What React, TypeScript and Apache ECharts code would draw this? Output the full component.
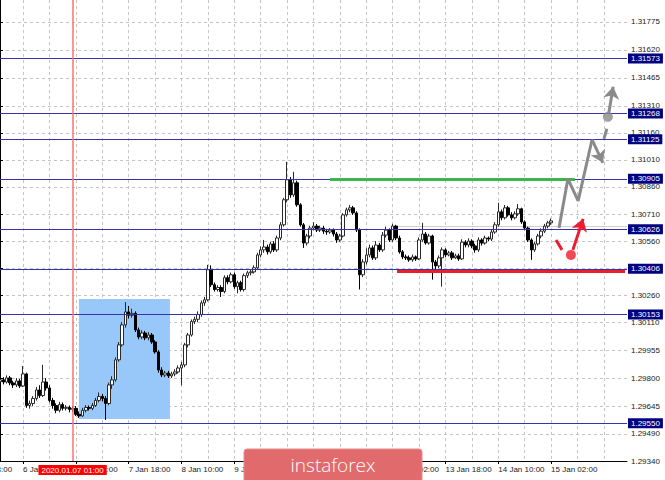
import React, { useEffect, useRef } from "react";
import * as echarts from "echarts";

// ---------- DATA ----------
const tradingDays = [6, 7, 8, 9, 10, 13, 14, 15, 16];
const firstHour = 3; // first bar: 6 Jan 03:00
const barCount = 191;

// [open, close, low, high] H1 candles
const candles: number[][] = [
  [1.2978, 1.2979, 1.2976, 1.2981], [1.2979, 1.29778, 1.29765, 1.29805], [1.29778, 1.29801, 1.2977, 1.29815],
  [1.29801, 1.29773, 1.2976, 1.29812], [1.29773, 1.29762, 1.29745, 1.29785], [1.29762, 1.29784, 1.2975, 1.298],
  [1.29784, 1.29756, 1.29745, 1.29795], [1.29756, 1.29823, 1.2975, 1.29867], [1.29823, 1.29648, 1.29635, 1.2983],
  [1.29648, 1.29659, 1.2963, 1.29675], [1.29659, 1.29687, 1.29645, 1.297], [1.29687, 1.29734, 1.29675, 1.2975],
  [1.29734, 1.29703, 1.2969, 1.2976], [1.29703, 1.29778, 1.29695, 1.29873], [1.29778, 1.29745, 1.2973, 1.298],
  [1.29745, 1.29676, 1.29665, 1.2976], [1.29676, 1.29648, 1.2963, 1.2969], [1.29648, 1.29621, 1.29605, 1.2966],
  [1.29621, 1.29653, 1.2961, 1.29668], [1.29653, 1.29632, 1.2962, 1.29665], [1.29632, 1.29637, 1.2962, 1.2965],
  [1.29637, 1.29626, 1.2961, 1.29648], [1.29626, 1.29632, 1.29612, 1.29645], [1.29632, 1.29599, 1.2959, 1.29645],
  [1.29599, 1.2959, 1.29579, 1.29615], [1.2959, 1.29621, 1.29585, 1.29635], [1.29621, 1.29637, 1.2961, 1.2965],
  [1.29637, 1.29632, 1.2962, 1.29648], [1.29632, 1.29648, 1.29622, 1.29662], [1.29648, 1.29676, 1.2964, 1.2969],
  [1.29676, 1.29698, 1.29665, 1.2972], [1.29698, 1.29687, 1.2967, 1.29712], [1.29687, 1.29659, 1.29568, 1.297],
  [1.29659, 1.29762, 1.2965, 1.29775], [1.29762, 1.2979, 1.2974, 1.2981], [1.2979, 1.29901, 1.2978, 1.29915],
  [1.29901, 1.29984, 1.2989, 1.3], [1.29984, 1.30095, 1.29975, 1.3011], [1.30095, 1.30167, 1.3008, 1.30222],
  [1.30167, 1.30148, 1.3013, 1.302], [1.30148, 1.30159, 1.30135, 1.30185], [1.30159, 1.30067, 1.30055, 1.3017],
  [1.30067, 1.30028, 1.30015, 1.3008], [1.30028, 1.3005, 1.30015, 1.30065], [1.3005, 1.30023, 1.3001, 1.30062],
  [1.30023, 1.30039, 1.3001, 1.30055], [1.30039, 1.3, 1.2999, 1.3005], [1.3, 1.29945, 1.29935, 1.3001],
  [1.29945, 1.29845, 1.2983, 1.29955], [1.29845, 1.29817, 1.29805, 1.2986], [1.29817, 1.29828, 1.29805, 1.2984],
  [1.29828, 1.29812, 1.298, 1.2984], [1.29812, 1.29823, 1.298, 1.29835], [1.29823, 1.29834, 1.2981, 1.2985],
  [1.29834, 1.29856, 1.29825, 1.2987], [1.29856, 1.29873, 1.2976, 1.2989], [1.29873, 1.29984, 1.2986, 1.29995],
  [1.29984, 1.30039, 1.2997, 1.3005], [1.30039, 1.30114, 1.3003, 1.30125], [1.30114, 1.30126, 1.301, 1.3014],
  [1.30126, 1.30153, 1.3011, 1.3017], [1.30153, 1.30217, 1.3014, 1.3023], [1.30217, 1.30234, 1.302, 1.3025],
  [1.30234, 1.30401, 1.30225, 1.30428], [1.30401, 1.30318, 1.30305, 1.30425], [1.30318, 1.30291, 1.3028, 1.3033],
  [1.30291, 1.30302, 1.3028, 1.30315], [1.30302, 1.3028, 1.3025, 1.30315], [1.3028, 1.30357, 1.3027, 1.3037],
  [1.30357, 1.30334, 1.3032, 1.3037], [1.30334, 1.30373, 1.30325, 1.30385], [1.30373, 1.30307, 1.30295, 1.30385],
  [1.30307, 1.30329, 1.3027, 1.3034], [1.30329, 1.30291, 1.3028, 1.3034], [1.30291, 1.30368, 1.3028, 1.3038],
  [1.30368, 1.30384, 1.30355, 1.30395], [1.30384, 1.30389, 1.3037, 1.304], [1.30389, 1.30412, 1.3038, 1.30425],
  [1.30412, 1.30483, 1.304, 1.30495], [1.30483, 1.30511, 1.3047, 1.3053], [1.30511, 1.30527, 1.30495, 1.30566],
  [1.30527, 1.305, 1.30485, 1.3054], [1.305, 1.30544, 1.3049, 1.30555], [1.30544, 1.30511, 1.305, 1.3056],
  [1.30511, 1.30577, 1.305, 1.3059], [1.30577, 1.3065, 1.30565, 1.30665], [1.3065, 1.30789, 1.3064, 1.308],
  [1.30789, 1.309, 1.30775, 1.30999], [1.309, 1.30816, 1.308, 1.30915], [1.30816, 1.30883, 1.30805, 1.30944],
  [1.30883, 1.30761, 1.3075, 1.30895], [1.30761, 1.3065, 1.3064, 1.3077], [1.3065, 1.30549, 1.30522, 1.3066],
  [1.30549, 1.30588, 1.30535, 1.306], [1.30588, 1.30632, 1.30575, 1.30645], [1.30632, 1.30643, 1.3062, 1.30665],
  [1.30643, 1.30621, 1.3061, 1.30655], [1.30621, 1.30632, 1.3061, 1.30645], [1.30632, 1.30615, 1.306, 1.30645],
  [1.30615, 1.3061, 1.30595, 1.30628], [1.3061, 1.30621, 1.306, 1.30632], [1.30621, 1.30599, 1.30585, 1.3063],
  [1.30599, 1.30566, 1.3055, 1.3061], [1.30566, 1.30588, 1.30555, 1.306], [1.30588, 1.30705, 1.3058, 1.30715],
  [1.30705, 1.30733, 1.30695, 1.30745], [1.30733, 1.30744, 1.3072, 1.3076], [1.30744, 1.30716, 1.30705, 1.30755],
  [1.30716, 1.30621, 1.3061, 1.30725], [1.30621, 1.30373, 1.30291, 1.3063], [1.30373, 1.30444, 1.3036, 1.3046],
  [1.30444, 1.30483, 1.3043, 1.3052], [1.30483, 1.30522, 1.3047, 1.3054], [1.30522, 1.30467, 1.30455, 1.30535],
  [1.30467, 1.30538, 1.30455, 1.3056], [1.30538, 1.30511, 1.305, 1.3055], [1.30511, 1.30593, 1.305, 1.3061],
  [1.30593, 1.30621, 1.3058, 1.3064], [1.30621, 1.30566, 1.30555, 1.3063], [1.30566, 1.30643, 1.30555, 1.30655],
  [1.30643, 1.30577, 1.30565, 1.3065], [1.30577, 1.305, 1.3049, 1.3059], [1.305, 1.30472, 1.3046, 1.3051],
  [1.30472, 1.30467, 1.30455, 1.30485], [1.30467, 1.30456, 1.30445, 1.3048], [1.30456, 1.30472, 1.30445, 1.30485],
  [1.30472, 1.30461, 1.3045, 1.3048], [1.30461, 1.30566, 1.30455, 1.3058], [1.30566, 1.30599, 1.30555, 1.30661],
  [1.30599, 1.30549, 1.3054, 1.3061], [1.30549, 1.30588, 1.3054, 1.306], [1.30588, 1.30444, 1.30346, 1.30595],
  [1.30444, 1.30422, 1.304, 1.30455], [1.30422, 1.30467, 1.3041, 1.3048], [1.30467, 1.30511, 1.30307, 1.30525],
  [1.30511, 1.30483, 1.3047, 1.3052], [1.30483, 1.30494, 1.30475, 1.30505], [1.30494, 1.30467, 1.30455, 1.30505],
  [1.30467, 1.30478, 1.3046, 1.3049], [1.30478, 1.30461, 1.3045, 1.3049], [1.30461, 1.30554, 1.30455, 1.3057],
  [1.30554, 1.30538, 1.30525, 1.30565], [1.30538, 1.3056, 1.30525, 1.30575], [1.3056, 1.30533, 1.3052, 1.3057],
  [1.30533, 1.30511, 1.30495, 1.30545], [1.30511, 1.30566, 1.305, 1.3058], [1.30566, 1.30549, 1.30535, 1.30575],
  [1.30549, 1.30577, 1.3054, 1.3059], [1.30577, 1.30571, 1.3056, 1.30585], [1.30571, 1.3061, 1.3056, 1.30625],
  [1.3061, 1.3065, 1.306, 1.30665], [1.3065, 1.30722, 1.3064, 1.30772], [1.30722, 1.30689, 1.30675, 1.30735],
  [1.30689, 1.30744, 1.3068, 1.3076], [1.30744, 1.30705, 1.30695, 1.30755], [1.30705, 1.30689, 1.30675, 1.3072],
  [1.30689, 1.30711, 1.3068, 1.30725], [1.30711, 1.30739, 1.307, 1.30765], [1.30739, 1.30666, 1.30655, 1.30745],
  [1.30666, 1.30632, 1.3062, 1.30675], [1.30632, 1.30566, 1.30555, 1.3064], [1.30566, 1.30511, 1.30456, 1.30575],
  [1.30511, 1.30544, 1.305, 1.30555], [1.30544, 1.30588, 1.30535, 1.306], [1.30588, 1.30615, 1.30575, 1.3063],
  [1.30615, 1.30643, 1.30605, 1.30655], [1.30643, 1.30661, 1.3063, 1.30672], [1.30661, 1.30672, 1.3065, 1.30685],
];

const levels = [1.31573, 1.31268, 1.31125, 1.30905, 1.30626, 1.30406, 1.30153, 1.2955];
const yTickValues = [
  1.2934, 1.2949, 1.29645, 1.298, 1.29955, 1.3011, 1.3026, 1.3041, 1.3056,
  1.3071, 1.3086, 1.3101, 1.3116, 1.3131, 1.31465, 1.3162, 1.31775,
];
const yMin = 1.2934;
const yMax = 1.31897;

const markerBar = "7 Jan 01:00";
const markerLabel = "2020.01.07 01:00";
const offLeftLabel = "3 Jan 18:00";

// annotations in [bar index, price]
const greenLine = [[100, 1.30905], [174.2, 1.30905]];
const redLine = [[120.3, 1.30395], [189.4, 1.30395]];
const bidLine = [[120, 1.3064], [190, 1.3064]];
const greyPath = [[169.4, 1.30633], [172.1, 1.30905], [175.2, 1.30783], [179.4, 1.31122]];
const greyArrow1 = [[179.4, 1.31122], [182.7, 1.30994]];
const greyDash = [[183.0, 1.31127], [183.9, 1.31183]];
const greyDot = [184.2, 1.31249];
const greyArrow2 = [[184.5, 1.31271], [185.8, 1.31416]];
const redDash = [[168.5, 1.30566], [170.3, 1.30511]];
const redDot = [173.0, 1.30483];
const redArrow = [[173.6, 1.30511], [176.7, 1.30683]];
const blueBox = [[23.9, 1.30239], [51.5, 1.29573]];

// ---------- helpers ----------
const categories: string[] = [];
for (const d of tradingDays) {
  for (let h = 0; h < 24; h++) {
    if (d === tradingDays[0] && h < firstHour) continue;
    if (categories.length < barCount) categories.push(`${d} Jan ${String(h).padStart(2, "0")}:00`);
  }
}

const FONT = "'Liberation Sans', Arial, sans-serif";
const NAVY_LINE = "#3434b0";
const GREY = "#8a8a8a";
const RED = "#ee1c2c";
const isLabelIdx = (i: number) => (i - 7) % 16 === 0 && i <= 170;

export default function App() {
  const ref = useRef<HTMLDivElement>(null);
  useEffect(() => {
    if (!ref.current) return;
    const chart = echarts.init(ref.current, undefined, { renderer: "svg" });
    const option: any = {
      animation: false,
      backgroundColor: "#ffffff",
      textStyle: { fontFamily: FONT },
      grid: { left: 0, right: 38, top: 0, bottom: 19 },
      xAxis: [
        {
          type: "category",
          data: categories,
          boundaryGap: false,
          axisLine: { show: true, lineStyle: { color: "#000", width: 1 } },
          axisTick: { show: true, length: 3, interval: (i: number) => isLabelIdx(i), lineStyle: { color: "#000" } },
          axisLabel: {
            interval: (i: number) => isLabelIdx(i),
            align: "left",
            margin: 4,
            fontSize: 8,
            color: "#1a1a1a",
            fontFamily: FONT,
          },
          splitLine: {
            show: true,
            interval: (i: number) => (i - 7) % 8 === 0,
            lineStyle: { type: [3, 3], color: "#c4c4c4", width: 1 },
          },
        },
        { type: "value", min: 0, max: barCount - 1, show: false },
      ],
      yAxis: {
        type: "value",
        position: "right",
        min: yMin,
        max: yMax,
        axisLine: { show: true, lineStyle: { color: "#000", width: 1 } },
        axisTick: { show: true, length: 3, customValues: yTickValues, lineStyle: { color: "#000" } },
        axisLabel: {
          customValues: yTickValues,
          formatter: (v: number) => v.toFixed(5),
          fontSize: 8,
          color: "#1a1a1a",
          margin: 4,
          fontFamily: FONT,
        },
        splitLine: { show: true, lineStyle: { type: [3, 3], color: "#c4c4c4", width: 1 } },
      },
      series: [
        {
          type: "line",
          xAxisIndex: 1,
          data: [],
          z: 1,
          silent: true,
          markArea: {
            silent: true,
            itemStyle: { color: "#98c8fa", opacity: 1 },
            data: [[{ coord: blueBox[0] }, { coord: blueBox[1] }]],
          },
        },
        {
          type: "lines",
          coordinateSystem: "cartesian2d",
          xAxisIndex: 1,
          z: 2,
          silent: true,
          symbol: ["none", "none"],
          lineStyle: { color: "#d0d0d0", width: 1, opacity: 1 },
          data: [{ coords: bidLine }],
        },
        {
          type: "candlestick",
          data: candles,
          barWidth: 3,
          z: 3,
          silent: true,
          itemStyle: {
            color: "#ffffff",
            color0: "#000000",
            borderColor: "#2a2a2a",
            borderColor0: "#000000",
            borderWidth: 1,
          },
          markLine: {
            silent: true,
            symbol: "none",
            animation: false,
            data: [
              {
                xAxis: markerBar,
                lineStyle: { color: "#ff7070", width: 1.5, type: "solid" },
                label: {
                  show: true,
                  position: "start",
                  distance: 4,
                  formatter: markerLabel,
                  color: "#ffffff",
                  backgroundColor: "#ff0000",
                  padding: [1, 3, 1, 3],
                  fontSize: 8,
                  fontFamily: FONT,
                },
              },
            ],
          },
        },
        {
          type: "lines",
          coordinateSystem: "cartesian2d",
          xAxisIndex: 1,
          z: 4,
          silent: true,
          clip: false,
          symbol: ["none", "none"],
          lineStyle: { color: NAVY_LINE, width: 1, opacity: 1 },
          label: {
            show: true,
            position: "end",
            distance: 1,
            color: "#ffffff",
            backgroundColor: "#000080",
            padding: [1, 3, 1, 3],
            fontSize: 8,
            fontFamily: FONT,
          },
          data: levels.map((v) => ({
            coords: [[0, v], [barCount - 1, v]],
            lineStyle: { color: NAVY_LINE, width: 1, opacity: 1 },
            label: { show: true, formatter: v.toFixed(5) },
          })),
        },
        {
          type: "lines",
          coordinateSystem: "cartesian2d",
          xAxisIndex: 1,
          z: 5,
          silent: true,
          symbol: ["none", "none"],
          data: [
            { coords: greenLine, lineStyle: { color: "#3cb54a", width: 3, opacity: 1 } },
            { coords: redLine, lineStyle: { color: RED, width: 3, opacity: 1 } },
            { coords: redDash, lineStyle: { color: RED, width: 3, opacity: 1 } },
            { coords: greyDash, lineStyle: { color: GREY, width: 3, opacity: 1 } },
          ],
        },
        {
          type: "line",
          xAxisIndex: 1,
          z: 5,
          silent: true,
          data: greyPath,
          symbol: "none",
          lineStyle: { color: GREY, width: 3 },
        },
        {
          type: "lines",
          coordinateSystem: "cartesian2d",
          xAxisIndex: 1,
          z: 5,
          silent: true,
          symbol: ["none", "arrow"],
          symbolSize: 12,
          data: [
            { coords: greyArrow1, lineStyle: { color: GREY, width: 3, opacity: 1 }, itemStyle: { color: GREY } },
            { coords: greyArrow2, lineStyle: { color: GREY, width: 3, opacity: 1 }, itemStyle: { color: GREY } },
          ],
        },
        {
          type: "lines",
          coordinateSystem: "cartesian2d",
          xAxisIndex: 1,
          z: 5,
          silent: true,
          symbol: ["none", "arrow"],
          symbolSize: 12,
          data: [{ coords: redArrow, lineStyle: { color: RED, width: 3, opacity: 1 }, itemStyle: { color: RED } }],
        },
        {
          type: "scatter",
          xAxisIndex: 1,
          z: 6,
          silent: true,
          symbolSize: 10,
          data: [
            { value: greyDot, itemStyle: { color: GREY } },
            { value: redDot, itemStyle: { color: RED } },
          ],
        },
      ],
      graphic: [
        {
          id: "logoBox",
          type: "rect",
          z: 100,
          shape: { x: 244, y: 449, width: 178, height: 40, r: 3 },
          style: { fill: "#e06a6c", stroke: "#e88a8c", lineWidth: 1 },
        },
        {
          id: "logoText",
          type: "text",
          z: 101,
          x: 333,
          y: 465,
          style: {
            text: "instaforex",
            fill: "#ffffff",
            font: "300 19px 'Open Sans', sans-serif",
            textAlign: "center",
            textVerticalAlign: "middle",
          },
        },
      ],
    };
    chart.setOption(option);
    const px = chart.convertToPixel({ xAxisIndex: 1, yAxisIndex: 0 } as any, [-9, yMin]) as number[];
    if (px) {
      chart.setOption({
        graphic: [
          {
            id: "offLeft",
            type: "text",
            x: px[0],
            y: px[1] + 4,
            style: { text: offLeftLabel, fill: "#1a1a1a", font: `8px ${FONT}`, textAlign: "left", textVerticalAlign: "top" },
          },
        ],
      });
    }
    return () => chart.dispose();
  }, []);
  return (
    <div
      ref={ref}
      style={{ position: "fixed", left: 0, top: 0, width: 665, height: 480 }}
    />
  );
}
